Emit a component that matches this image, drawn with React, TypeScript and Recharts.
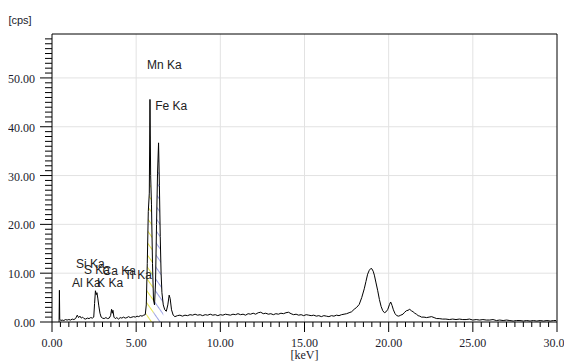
import React from 'react';
import {
  ComposedChart, Line, Area, XAxis, YAxis, CartesianGrid, ReferenceLine, ReferenceDot,
} from 'recharts';

// Energy axis (keV) and counts (cps)
const energyKeV: number[] = [
  0.42, 0.44, 0.46, 0.52, 0.60, 0.70, 0.80, 0.90, 1.00, 1.10, 1.20, 1.30, 1.40, 1.50, 1.58, 1.66, 1.74, 1.82, 1.90, 2.00,
  2.10, 2.20, 2.30, 2.40, 2.48, 2.53, 2.58, 2.63, 2.67, 2.72, 2.78, 2.85, 2.92, 3.00, 3.10, 3.20, 3.30, 3.40, 3.48, 3.54,
  3.58, 3.62, 3.68, 3.76, 3.85, 3.95, 4.05, 4.15, 4.25, 4.35, 4.45, 4.55, 4.65, 4.75, 4.85, 4.95, 5.05, 5.15, 5.25, 5.35,
  5.45, 5.54, 5.60, 5.66, 5.72, 5.78, 5.82, 5.86, 5.91, 5.97, 6.03, 6.09, 6.15, 6.21, 6.27, 6.33, 6.38, 6.43, 6.48, 6.53,
  6.61, 6.70, 6.79, 6.88, 6.96, 7.02, 7.10, 7.20, 7.30, 7.45, 7.60, 7.75, 7.90, 8.05, 8.20, 8.35, 8.50, 8.65, 8.80, 8.95,
  9.10, 9.25, 9.40, 9.55, 9.70, 9.85, 10.00, 10.15, 10.30, 10.45, 10.60, 10.75, 10.90, 11.05, 11.20, 11.35, 11.50, 11.65, 11.80, 11.95,
  12.10, 12.25, 12.40, 12.55, 12.70, 12.85, 13.00, 13.15, 13.30, 13.45, 13.60, 13.75, 13.90, 14.05, 14.20, 14.35, 14.50, 14.65, 14.80, 14.95,
  15.10, 15.25, 15.40, 15.55, 15.70, 15.85, 16.00, 16.15, 16.30, 16.45, 16.60, 16.75, 16.90, 17.05, 17.20, 17.35, 17.50, 17.65, 17.80, 17.95,
  18.10, 18.25, 18.40, 18.55, 18.65, 18.75, 18.85, 18.95, 19.00, 19.08, 19.15, 19.25, 19.35, 19.45, 19.55, 19.65, 19.75, 19.85, 19.95, 20.05,
  20.12, 20.20, 20.28, 20.38, 20.48, 20.60, 20.72, 20.85, 20.95, 21.05, 21.15, 21.25, 21.35, 21.45, 21.55, 21.65, 21.75, 21.85, 21.95, 22.10,
  22.25, 22.40, 22.55, 22.70, 22.85, 23.00, 23.20, 23.40, 23.60, 23.80, 24.00, 24.20, 24.40, 24.60, 24.80, 25.00, 25.20, 25.40, 25.60, 25.80,
  26.00, 26.20, 26.40, 26.60, 26.80, 27.00, 27.20, 27.40, 27.60, 27.80, 28.00, 28.20, 28.40, 28.60, 28.80, 29.00, 29.20, 29.40, 29.60, 29.80,
  29.95,
];

const countsCps: number[] = [
  0.0, 6.5, 0.6, 0.3, 0.4, 0.3, 0.5, 0.4, 0.5, 0.4, 0.6, 0.5, 0.7, 1.4, 0.9, 1.2, 0.8, 1.0, 0.7, 0.6,
  0.8, 0.7, 0.9, 0.8, 1.0, 3.8, 6.4, 5.6, 6.0, 4.9, 3.3, 1.8, 1.0, 0.8, 0.7, 0.9, 0.7, 0.8, 1.3, 2.6,
  1.8, 2.4, 1.0, 0.7, 0.9, 0.6, 0.9, 0.8, 1.0, 0.8, 0.9, 1.1, 0.9, 1.0, 1.1, 1.0, 1.2, 1.1, 1.3, 1.2,
  1.4, 1.5, 3.5, 12.0, 22.6, 26.4, 45.6, 30.0, 24.0, 12.0, 4.5, 3.5, 8.0, 20.0, 30.5, 36.7, 28.0, 17.5, 10.0, 6.0,
  3.5, 2.5, 2.2, 3.5, 5.5, 4.8, 2.5, 1.4, 1.1, 1.3, 1.4, 1.2, 1.4, 1.3, 1.5, 1.4, 1.6, 1.4, 1.5, 1.3,
  1.5, 1.4, 1.6, 1.4, 1.5, 1.3, 1.5, 1.4, 1.6, 1.5, 1.4, 1.6, 1.5, 1.7, 1.5, 1.6, 1.4, 1.7, 1.6, 1.8,
  1.6, 1.9, 2.0, 1.7, 1.8, 1.6, 1.7, 1.5, 1.7, 1.6, 1.8, 1.7, 1.9, 2.0, 1.7, 1.5, 1.6, 1.4, 1.5, 1.3,
  1.5, 1.4, 1.3, 1.4, 1.2, 1.3, 1.1, 1.3, 1.2, 1.1, 1.3, 1.2, 1.4, 1.3, 1.5, 1.6, 1.7, 1.9, 2.1, 2.6,
  3.0, 3.6, 5.0, 6.8, 8.3, 9.8, 10.6, 11.0, 10.9, 10.4, 9.6, 8.0, 6.4, 4.6, 3.2, 2.3, 1.9, 2.1, 2.6, 3.6,
  4.1, 3.4, 2.5, 1.7, 1.3, 1.2, 1.4, 1.6, 2.0, 2.3, 2.4, 2.6, 2.3, 2.1, 1.8, 1.6, 1.3, 1.2, 1.0, 1.0,
  0.9, 1.0, 1.1, 0.9, 0.7, 0.7, 0.6, 0.6, 0.5, 0.6, 0.5, 0.6, 0.5, 0.5, 0.6, 0.4, 0.5, 0.4, 0.5, 0.4,
  0.4, 0.5, 0.3, 0.4, 0.3, 0.4, 0.3, 0.2, 0.3, 0.3, 0.2, 0.3, 0.2, 0.3, 0.2, 0.3, 0.2, 0.3, 0.2, 0.3,
  0.3,
];

// Energy windows of the identified (hatched) peaks
const mnKaWindow: [number, number] = [5.56, 6.03];
const feKaWindow: [number, number] = [6.03, 6.61];

// Peak identification labels: name, anchor energy (keV), anchor height (cps)
const peakLabelNames: string[] = ['Mn Ka', 'Fe Ka', 'Si Ka', 'S Ka', 'Ca Ka', 'Ti Ka', 'Al Ka', 'K Ka'];
const peakLabelKeV: number[] = [5.65, 6.13, 1.43, 1.9, 3.0, 4.3, 1.19, 2.68];
const peakLabelCps: number[] = [52.8, 44.3, 11.9, 10.8, 10.4, 9.6, 8.0, 8.0];

const xMajorTicks: number[] = [0, 5, 10, 15, 20, 25, 30];
const yMajorTicks: number[] = [0, 10, 20, 30, 40, 50];
const xMinorStep = 0.5;
const yMinorStep = 1;
const xMax = 30;
const yMax = 59;

const xTicks: number[] = Array.from({ length: Math.round(xMax / xMinorStep) + 1 }, (_, i) => i * xMinorStep);
const yTicks: number[] = Array.from({ length: Math.round((yMax - 1) / yMinorStep) + 1 }, (_, i) => i * yMinorStep);

const inWin = (e: number, w: [number, number]) => e >= w[0] - 1e-9 && e <= w[1] + 1e-9;

const data = energyKeV.map((e, i) => ({
  keV: e,
  cps: countsCps[i],
  mn: inWin(e, mnKaWindow) ? countsCps[i] : null,
  fe: inWin(e, feKaWindow) ? countsCps[i] : null,
}));

const tickFont = '"Liberation Serif", "Times New Roman", serif';
const labelFont = '"Liberation Sans", Arial, sans-serif';

const isMajor = (v: number, list: number[]) => list.some((m) => Math.abs(m - v) < 1e-6);

const XTick = (props: any) => {
  const { x, y, payload } = props;
  const v = payload.value as number;
  const major = isMajor(v, xMajorTicks);
  return (
    <g>
      <line x1={x} x2={x} y1={y} y2={y + (major ? 10 : 5)} stroke="#000" strokeWidth={1} />
      {major && (
        <text x={x} y={y + 25} textAnchor="middle" fontFamily={tickFont} fontSize={12} fill="#1c1c2c">
          {v.toFixed(2)}
        </text>
      )}
    </g>
  );
};

const YTick = (props: any) => {
  const { x, y, payload } = props;
  const v = payload.value as number;
  const major = isMajor(v, yMajorTicks);
  return (
    <g>
      <line x1={x - (major ? 12 : 7)} x2={x} y1={y} y2={y} stroke="#000" strokeWidth={1} />
      {major && (
        <text x={x - 17} y={y + 5} textAnchor="end" fontFamily={tickFont} fontSize={12} fill="#1c1c2c">
          {v.toFixed(2)}
        </text>
      )}
    </g>
  );
};

export default function App() {
  return (
    <div style={{ width: 564, height: 353 }}>
      <svg width={0} height={0} style={{ position: 'absolute' }}>
        <defs>
          <pattern id="hatchMn" patternUnits="userSpaceOnUse" width={7} height={7} patternTransform="rotate(-35)">
            <line x1={0} y1={0} x2={0} y2={7} stroke="#dcd800" strokeWidth={1.4} />
          </pattern>
          <pattern id="hatchFe" patternUnits="userSpaceOnUse" width={7} height={7} patternTransform="rotate(-35)">
            <line x1={0} y1={0} x2={0} y2={7} stroke="#5a62d4" strokeWidth={1.2} />
          </pattern>
        </defs>
      </svg>
      <ComposedChart
        width={564}
        height={353}
        data={data}
        margin={{ top: 26, right: 15, bottom: 0, left: 0 }}
      >
        <CartesianGrid
          stroke="#e2e2e2"
          horizontalValues={[10, 20, 30, 40, 50]}
          verticalValues={[5, 10, 15, 20, 25]}
        />
        <XAxis
          dataKey="keV"
          type="number"
          domain={[0, xMax]}
          ticks={xTicks}
          interval={0}
          tickSize={0}
          tickMargin={0}
          tick={<XTick />}
          height={39}
          axisLine={{ stroke: '#000' }}
          tickLine={false}
          allowDataOverflow
          label={{ value: '[keV]', position: 'insideBottom', offset: 2, fontFamily: tickFont, fontSize: 12, fill: '#1c1c2c' }}
        />
        <YAxis
          type="number"
          domain={[0, yMax]}
          ticks={yTicks}
          interval={0}
          tickSize={0}
          tickMargin={0}
          tick={<YTick />}
          width={44}
          axisLine={{ stroke: '#000' }}
          tickLine={false}
          allowDataOverflow
          label={{
            content: (p: any) => (
              <text x={p.viewBox.x + 12} y={p.viewBox.y - 10} textAnchor="middle" fontFamily={labelFont} fontSize={11} fill="#1c1c2c">
                [cps]
              </text>
            ),
          }}
        />
        <ReferenceLine y={yMax} stroke="#000" strokeWidth={1} />
        <ReferenceLine x={xMax} stroke="#000" strokeWidth={1} />
        <Area dataKey="mn" type="linear" stroke="none" fill="url(#hatchMn)" fillOpacity={1} isAnimationActive={false} connectNulls={false} baseValue={0} />
        <Area dataKey="fe" type="linear" stroke="none" fill="url(#hatchFe)" fillOpacity={1} isAnimationActive={false} connectNulls={false} baseValue={0} />
        <Line dataKey="cps" type="linear" stroke="#000" strokeWidth={1} dot={false} activeDot={false} isAnimationActive={false} />
        {peakLabelNames.map((name, i) => (
          <ReferenceDot
            key={name}
            x={peakLabelKeV[i]}
            y={peakLabelCps[i]}
            r={1}
            fill="none"
            stroke="none"
            label={{ value: name, position: 'right', offset: -1, fontFamily: labelFont, fontSize: 12, fill: '#222' }}
          />
        ))}
      </ComposedChart>
    </div>
  );
}
